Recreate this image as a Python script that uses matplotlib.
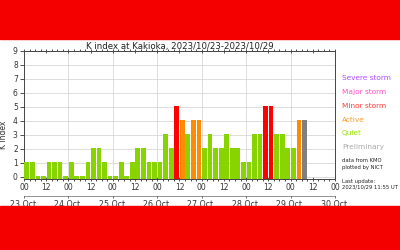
import matplotlib
matplotlib.use('Agg')
import matplotlib.pyplot as plt
from matplotlib.patches import Rectangle

# K index every 3 hours, 2023/10/23 00 UT onwards
k_values = [1, 1, 0, 0, 1, 1, 1, 0,
            1, 0, 0, 1, 2, 2, 1, 0,
            0, 1, 0, 1, 2, 2, 1, 1,
            1, 3, 2, 5, 4, 3, 4, 4,
            2, 3, 2, 2, 3, 2, 2, 1,
            1, 3, 3, 5, 5, 3, 3, 2,
            2, 4, 4]
n_preliminary = 1
day_labels = ['23 Oct.', '24 Oct.', '25 Oct.', '26 Oct.', '27 Oct.', '28 Oct.', '29 Oct.', '30 Oct.']
hour_labels = ['00', '12']

legend_items = ['Severe storm', 'Major storm', 'Minor storm', 'Active', 'Quiet', 'Preliminary']
legend_colors = ['#b04cff', '#ff4fbf', '#ff3b3b', '#ff9a2e', '#99e600', '#aaaaaa']


def bar_color(k):
    if k >= 8:
        return '#a020f0'
    if k >= 6:
        return '#ff1493'
    if k == 5:
        return '#ff0000'
    if k == 4:
        return '#ff8c00'
    return '#88d400'


fig = plt.figure(figsize=(4, 2.5), dpi=100)
fig.patch.set_facecolor('white')
# red bands above and below
fig.patches.append(Rectangle((0, 211 / 250), 1, 39 / 250, transform=fig.transFigure,
                             color='#f50000', zorder=0))
fig.patches.append(Rectangle((0, 0), 1, 44 / 250, transform=fig.transFigure,
                             color='#f50000', zorder=0))

ax = fig.add_axes([24 / 400, 71 / 250, 311 / 400, 128 / 250])

n = len(k_values)
bottom = -0.16
for i, k in enumerate(k_values):
    c = '#808080' if i >= n - n_preliminary else bar_color(k)
    ax.bar(i + 0.5, k - bottom + 0.05, bottom=bottom, width=0.85, color=c, zorder=3)

ax.set_xlim(0, 56)
ax.set_ylim(bottom, 9)
ax.set_yticks(range(10))
ax.set_xticks(range(0, 57, 4))
ax.set_xticklabels([hour_labels[j % 2] for j in range(15)])
ax.set_xticks(range(57), minor=True)
ax.tick_params(axis='both', labelsize=5.5, length=3, width=0.6, pad=1.5, colors='#333333')
ax.tick_params(axis='x', which='minor', top=True, bottom=True, length=1.5, width=0.5)
ax.tick_params(axis='x', which='major', top=True, direction='inout')
ax.grid(True, axis='y', color='#d0d0d0', linewidth=0.5, zorder=0)
for d in range(8, 56, 8):
    ax.axvline(d, color='#d0d0d0', linewidth=0.5, zorder=0)
for s in ax.spines.values():
    s.set_linewidth(0.7)
    s.set_color('#444444')

sec = ax.secondary_xaxis(-0.133)
sec.set_xticks(range(0, 57, 8))
sec.set_xticklabels(day_labels)
sec.tick_params(labelsize=5.7, length=1.5, width=0.5, pad=1.5, colors='#333333')
sec.spines['bottom'].set_linewidth(0.5)
sec.spines['bottom'].set_color('#666666')

ax.set_title('K index at Kakioka, 2023/10/23-2023/10/29', fontsize=6.2, pad=1.5, color='#222222')
fig.text(4 / 400, 115 / 250, 'K index', rotation=90, fontsize=5.5, ha='center', va='center',
         color='#333333')

ys = [78, 92, 106, 120, 133, 147]
for label, col, y in zip(legend_items, legend_colors, ys):
    fig.text(342 / 400, 1 - y / 250, label, fontsize=5.3, color=col, va='center')

fig.text(342 / 400, 1 - 161 / 250, 'data from KMO', fontsize=3.8, color='#222222', va='center')
fig.text(342 / 400, 1 - 168 / 250, 'plotted by NICT', fontsize=3.8, color='#222222', va='center')
fig.text(342 / 400, 1 - 181 / 250, 'Last update:', fontsize=3.8, color='#222222', va='center')
fig.text(342 / 400, 1 - 187 / 250, '2023/10/29 11:55 UT', fontsize=3.8, color='#222222', va='center')

fig.savefig('out.png', dpi=100)
